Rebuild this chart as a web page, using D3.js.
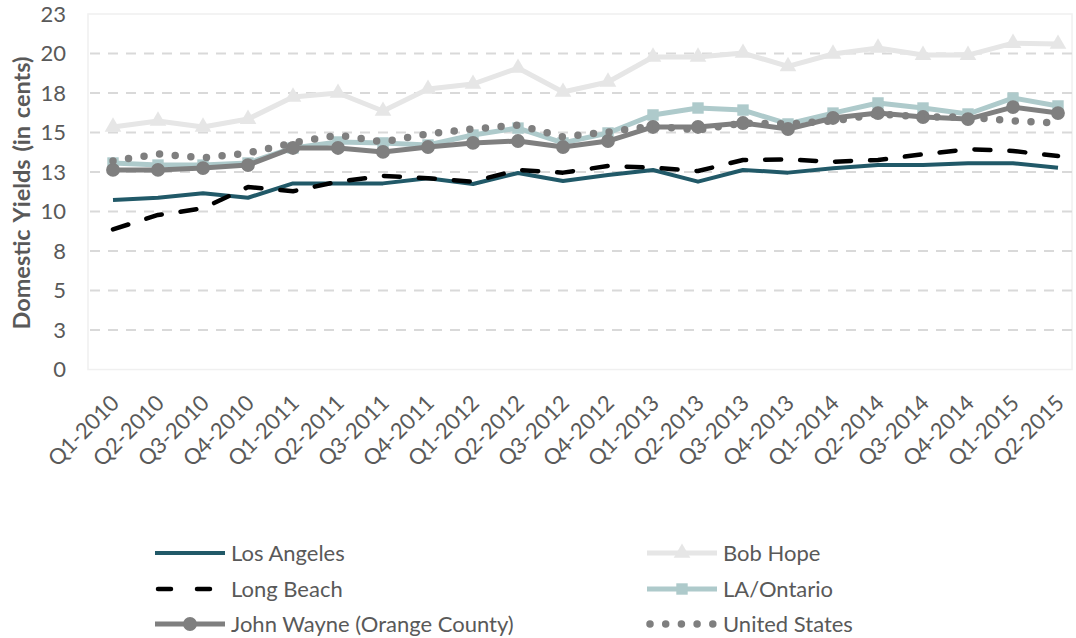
<!DOCTYPE html>
<html>
<head>
<meta charset="utf-8">
<script src="https://cdn.jsdelivr.net/npm/d3@7"></script>
<style>
  html, body { margin: 0; padding: 0; background: #fff; }
  svg { display: block; }
  text { font-family: Lato, "Open Sans", "Liberation Sans", sans-serif; fill: #595959; }
</style>
</head>
<body>
<svg id="chart" width="1076" height="638"></svg>
<script>
const categories = ["Q1-2010","Q2-2010","Q3-2010","Q4-2010","Q1-2011","Q2-2011","Q3-2011","Q4-2011",
  "Q1-2012","Q2-2012","Q3-2012","Q4-2012","Q1-2013","Q2-2013","Q3-2013","Q4-2013",
  "Q1-2014","Q2-2014","Q3-2014","Q4-2014","Q1-2015","Q2-2015"];

const losAngeles = [10.73,10.87,11.15,10.87,11.78,11.78,11.78,12.10,11.74,12.44,11.93,12.31,
  12.63,11.89,12.63,12.46,12.73,12.94,12.94,13.05,13.05,12.77];
const bobHope = [15.35,15.73,15.35,15.85,17.25,17.50,16.36,17.75,18.07,19.08,17.56,18.20,
  19.78,19.78,20.03,19.18,19.97,20.35,19.90,19.90,20.66,20.60];
const longBeach = [8.87,9.78,10.20,11.55,11.28,11.89,12.25,12.10,11.89,12.63,12.46,12.88,
  12.77,12.56,13.26,13.29,13.15,13.26,13.62,13.94,13.83,13.51];
const laOntario = [13.07,12.94,12.94,13.07,14.02,14.40,14.34,14.21,14.84,15.28,14.34,14.97,
  16.11,16.55,16.42,15.54,16.23,16.87,16.55,16.17,17.18,16.68];
const johnWayne = [12.63,12.63,12.75,12.94,14.02,14.02,13.77,14.08,14.34,14.46,14.08,14.46,
  15.35,15.35,15.60,15.22,15.92,16.23,15.98,15.85,16.61,16.23];
const unitedStates = [13.20,13.64,13.39,13.70,14.34,14.84,14.40,14.91,15.22,15.47,14.72,15.03,
  15.41,15.16,15.60,15.54,15.73,16.17,15.98,15.98,15.73,15.60];

const yTickValues = [0, 2.5, 5, 7.5, 10, 12.5, 15, 17.5, 20, 22.5];
const yTickLabels = ["0","3","5","8","10","13","15","18","20","23"];
const yTitle = "Domestic  Yields  (in  cents)";

const seriesList = [
  { name: "Los Angeles", values: losAngeles, color: "#215968", width: 4, marker: null, dash: null },
  { name: "Bob Hope", values: bobHope, color: "#e6e6e6", width: 5, marker: "triangle", dash: null },
  { name: "Long Beach", values: longBeach, color: "#000000", width: 4.5, marker: null, dash: "16,19" },
  { name: "LA/Ontario", values: laOntario, color: "#aecacb", width: 5, marker: "square", dash: null },
  { name: "John Wayne (Orange County)", values: johnWayne, color: "#7f7f7f", width: 5, marker: "circle", dash: null },
  { name: "United States", values: unitedStates, color: "#7f7f7f", width: 7.5, marker: null, dash: "0,15.7" }
];

const svg = d3.select("#chart");
const plot = { left: 88, right: 1072, top: 14, bottom: 369.5 };
const fontMain = "22px";

const x = d3.scalePoint().domain(categories).range([113, 1058]);
const y = d3.scaleLinear().domain([0, 22.5]).range([plot.bottom, plot.top]);

// plot area border
svg.append("rect")
  .attr("x", plot.left).attr("y", plot.top)
  .attr("width", plot.right - plot.left).attr("height", plot.bottom - plot.top)
  .attr("fill", "none").attr("stroke", "#f0f0f0").attr("stroke-width", 1.5);

// gridlines
svg.append("g").selectAll("line")
  .data(yTickValues.filter(v => v > 0 && v < 22.5))
  .join("line")
  .attr("x1", plot.left + 2).attr("x2", plot.right)
  .attr("y1", d => y(d)).attr("y2", d => y(d))
  .attr("stroke", "#d9d9d9").attr("stroke-width", 2)
  .attr("stroke-dasharray", "10,8");

// y axis labels
const yAxis = d3.axisLeft(y).tickValues(yTickValues)
  .tickFormat((d, i) => yTickLabels[i]).tickSize(0).tickPadding(0);
const gy = svg.append("g").attr("transform", "translate(66,0)").call(yAxis);
gy.select(".domain").remove();
gy.selectAll("text").style("font-size", fontMain).attr("fill", "#595959")
  .style("font-family", "Lato, 'Open Sans', sans-serif");

// y title
svg.append("text")
  .attr("transform", "translate(22,193) rotate(-90)")
  .attr("text-anchor", "middle")
  .attr("dy", "0.35em")
  .style("font-size", "23.5px").style("font-weight", "bold")
  .style("word-spacing", "2px")
  .text(yTitle);

// x axis labels
const xAxis = d3.axisBottom(x).tickSize(0).tickPadding(0);
const gx = svg.append("g").attr("transform", `translate(0,${plot.bottom})`).call(xAxis);
gx.select(".domain").remove();
gx.selectAll("text")
  .attr("text-anchor", "end")
  .attr("dy", "0")
  .attr("y", 0)
  .attr("transform", "translate(7,35) rotate(-45)")
  .style("font-size", fontMain).attr("fill", "#595959")
  .style("font-family", "Lato, 'Open Sans', sans-serif");

// lines
const line = d3.line().x((d, i) => x(categories[i])).y(d => y(d));
const symbolFor = m => m === "triangle" ? d3.symbolTriangle : m === "square" ? d3.symbolSquare : d3.symbolCircle;
const symbolSize = m => m === "triangle" ? 120 : m === "square" ? 130 : 150;

seriesList.forEach(s => {
  const g = svg.append("g");
  g.append("path").datum(s.values)
    .attr("d", line)
    .attr("fill", "none")
    .attr("stroke", s.color)
    .attr("stroke-width", s.width)
    .attr("stroke-linejoin", "round")
    .attr("stroke-linecap", s.dash ? "round" : "butt")
    .attr("stroke-dasharray", s.dash);
  if (s.marker) {
    g.selectAll("path.m").data(s.values).join("path").attr("class", "m")
      .attr("transform", (d, i) => `translate(${x(categories[i])},${y(d)})`)
      .attr("d", d3.symbol().type(symbolFor(s.marker)).size(symbolSize(s.marker)))
      .attr("fill", s.color);
  }
});

// legend
const legendPos = [
  { x: 155, y: 553 }, { x: 647, y: 553 },
  { x: 155, y: 589 }, { x: 647, y: 589 },
  { x: 155, y: 624 }, { x: 647, y: 624 }
];
const legendOrder = ["Los Angeles", "Bob Hope", "Long Beach", "LA/Ontario", "John Wayne (Orange County)", "United States"];
legendOrder.forEach((name, i) => {
  const s = seriesList.find(d => d.name === name);
  const p = legendPos[i];
  const g = svg.append("g").attr("transform", `translate(${p.x},${p.y})`);
  const lineLen = 70;
  g.append("line").attr("x1", s.dash ? 3 : 0).attr("x2", lineLen).attr("y1", 0).attr("y2", 0)
    .attr("stroke", s.color).attr("stroke-width", s.width)
    .attr("stroke-linecap", s.dash ? "round" : "butt")
    .attr("stroke-dasharray", s.name === "Long Beach" ? "13,26" : s.dash);
  if (s.marker) {
    g.append("path").attr("transform", `translate(${lineLen / 2},0)`)
      .attr("d", d3.symbol().type(symbolFor(s.marker)).size(symbolSize(s.marker)))
      .attr("fill", s.color);
  }
  g.append("text").attr("x", lineLen + 6).attr("y", 0).attr("dy", "0.35em")
    .style("font-size", fontMain).text(s.name);
});
</script>
</body>
</html>
